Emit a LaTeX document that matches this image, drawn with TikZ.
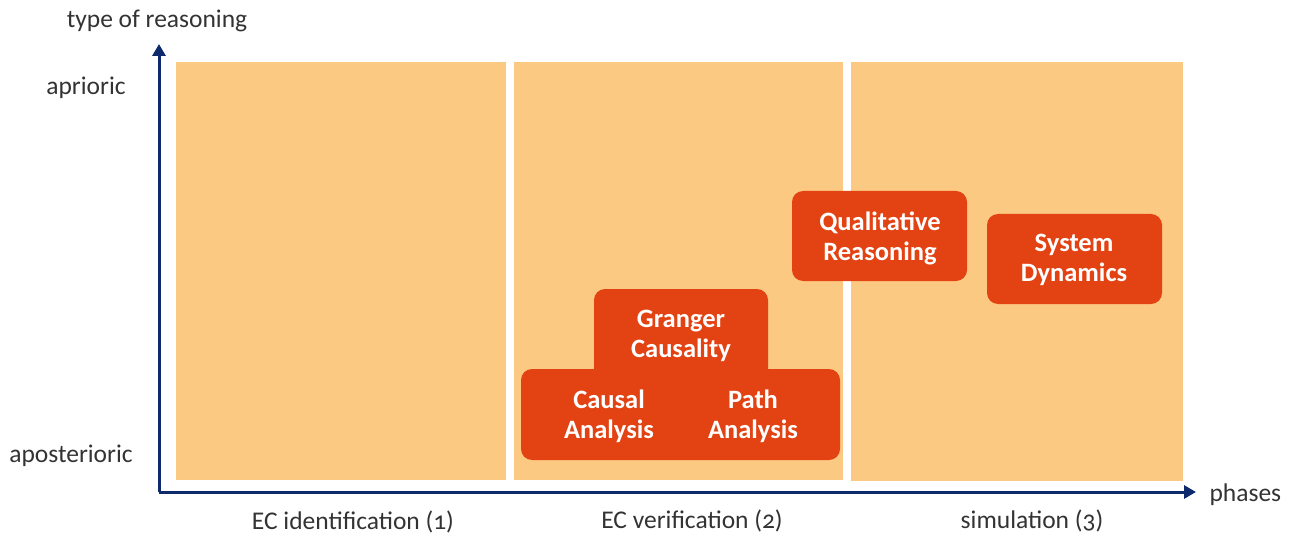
\documentclass[tikz,border=0pt]{standalone}
\usepackage{fontspec}
\setmainfont{Carlito}[Numbers=OldStyle]
\usetikzlibrary{arrows.meta}
\definecolor{panel}{HTML}{FCC982}
\definecolor{boxc}{HTML}{E34212}
\definecolor{axisc}{HTML}{0C2A6C}
\tikzset{
  panelbox/.style={fill=panel, draw=none},
  methodbox/.style={fill=boxc, draw=none, rounded corners=11pt},
  methodtext/.style={text=white, font=\fontsize{26.5}{30}\selectfont\bfseries, align=center},
  axislabel/.style={text=black!80, font=\fontsize{25.5}{30}\selectfont},
  axisline/.style={draw=axisc, line width=3pt, -{Triangle[width=13pt,length=12pt]}}
}
\begin{document}
\begin{tikzpicture}[x=1pt,y=-1pt]
\useasboundingbox (0,0) rectangle (1295,537);
% panels
\fill[panelbox] (176,62) rectangle (506,480);
\fill[panelbox] (514,62) rectangle (843,480);
\fill[panelbox] (851,62) rectangle (1183,481);
% axes
\coordinate (origin) at (159,492);
\coordinate (ytip) at (159,44);
\coordinate (xtip) at (1196,492);
\draw[axisline] (origin) -- (ytip);
\draw[axisline] (origin) -- (xtip);
% axis labels
\node[axislabel] (ylab) at (157,21) {type of reasoning};
\node[axislabel] (apri) at (86,88) {aprioric};
\node[axislabel] (apost) at (71,456) {aposterioric};
\node[axislabel, anchor=west] (phases) at (1206,495) {phases};
\node[axislabel] (p1) at (353,522) {EC identification (1)};
\node[axislabel] (p2) at (692,521) {EC verification (2)};
\node[axislabel] (p3) at (1032,521) {simulation (3)};
% method boxes
\fill[methodbox] (594,289) rectangle (768,400);
\fill[methodbox] (521,369) rectangle (840,460);
\fill[methodbox] (792,191) rectangle (967,281);
\fill[methodbox] (987,214) rectangle (1162,304);
\node[methodtext] (granger) at (681,336) {Granger\\Causality};
\node[methodtext] (causal) at (609,416) {Causal\\Analysis};
\node[methodtext] (path) at (753,416) {Path\\Analysis};
\node[methodtext] (qual) at (880,238) {Qualitative\\Reasoning};
\node[methodtext] (sysdyn) at (1074,260) {System\\Dynamics};
\end{tikzpicture}
\end{document}
